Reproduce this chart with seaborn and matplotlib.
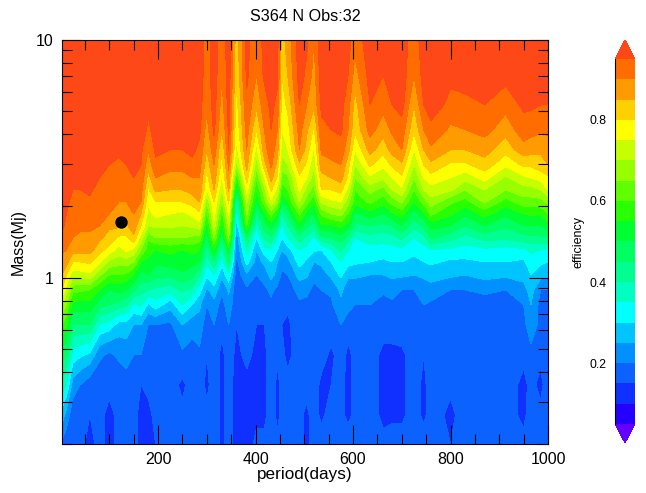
import matplotlib
matplotlib.use("Agg")
import matplotlib.pyplot as plt
from matplotlib.colors import ListedColormap
from matplotlib.ticker import FixedLocator, FixedFormatter, NullFormatter
import numpy as np
import seaborn as sns

title = "S364 N Obs:32"
levels = [0.05, 0.10, 0.15, 0.20, 0.25, 0.30, 0.35, 0.40, 0.45, 0.50,
          0.55, 0.60, 0.65, 0.70, 0.75, 0.80, 0.85, 0.90, 0.95]
band_colors = ["#2400ff", "#1030ff", "#0c62ff", "#0090ff", "#00c4ff", "#00ffff",
               "#00ffc0", "#00ff90", "#00ff60", "#00ff30", "#28ff00", "#60ff00",
               "#98ff00", "#c8ff00", "#ffff00", "#ffd000", "#ff9a00", "#ff6c00"]
under_color = "#6400ff"
over_color = "#ff4818"
cbar_ticks = [0.2, 0.4, 0.6, 0.8]

planet_period = [124]
planet_mass = [1.71]

mass = [0.2, 0.265, 0.354, 0.473, 0.633, 0.768, 0.888, 1.026, 1.164, 1.307, 1.468,
        1.649, 1.852, 2.08, 2.336, 2.624, 2.975, 3.44, 4.18, 5.32, 7.1, 10]

periods = [3, 12, 25, 40, 60, 80, 100, 120, 135, 150, 165, 180, 195, 225, 250, 270,
           285, 300, 315, 331, 345, 361, 382, 402, 418, 432, 445, 454, 466, 490, 505,
           520, 535, 555, 575, 590, 604, 635, 662, 680, 700, 725, 745, 760, 800, 830,
           870, 913, 950, 965, 985, 1000]

# efficiency in percent, one list per period, from low mass to high mass
eff_percent = [
    [19, 28, 38, 47, 60, 70, 80, 85, 88, 91, 94, 96, 97, 97, 98, 98, 98, 98, 98, 98, 98, 98],
    [17, 23, 35, 46, 56, 65, 73, 80, 87, 90, 92, 94, 95, 96, 96, 97, 97, 98, 98, 98, 98, 98],
    [16, 17, 23, 33, 45, 53, 62, 72, 80, 87, 90, 91, 92, 94, 95, 96, 96, 97, 97, 98, 98, 98],
    [16, 16, 20, 31, 45, 53, 61, 73, 80, 87, 89, 91, 93, 94, 95, 96, 97, 97, 98, 98, 98, 98],
    [14, 15, 17, 29, 45, 53, 60, 74, 81, 87, 89, 91, 93, 94, 96, 97, 97, 98, 98, 98, 98, 98],
    [16, 16, 17, 21, 35, 47, 55, 66, 76, 82, 86, 90, 91, 92, 93, 95, 96, 97, 98, 98, 98, 98],
    [14, 14, 16, 19, 33, 45, 50, 60, 69, 78, 83, 86, 90, 91, 92, 93, 95, 97, 98, 98, 98, 98],
    [16, 16, 17, 21, 28, 43, 52, 60, 67, 73, 79, 86, 88, 90, 91, 93, 94, 96, 97, 98, 98, 98],
    [16, 17, 18, 22, 28, 41, 50, 59, 68, 76, 79, 84, 88, 90, 92, 93, 95, 96, 98, 98, 98, 98],
    [16, 16, 16, 20, 25, 34, 46, 55, 65, 74, 84, 88, 90, 92, 94, 95, 96, 97, 98, 98, 98, 98],
    [14, 14, 15, 20, 25, 36, 42, 48, 55, 65, 73, 80, 85, 90, 92, 94, 95, 96, 98, 98, 98, 98],
    [13, 14, 16, 18, 20, 29, 40, 50, 54, 57, 61, 70, 73, 76, 79, 83, 87, 90, 94, 96, 97, 98],
    [15, 16, 17, 18, 20, 33, 39, 47, 51, 55, 65, 71, 77, 80, 86, 90, 94, 96, 97, 98, 98, 98],
    [18, 17, 17, 17, 19, 27, 37, 47, 52, 57, 65, 71, 75, 80, 85, 88, 92, 95, 97, 98, 98, 98],
    [17, 16, 14, 19, 25, 35, 41, 49, 53, 55, 65, 70, 74, 80, 85, 89, 91, 95, 97, 98, 98, 98],
    [17, 17, 17, 18, 22, 30, 39, 47, 52, 57, 64, 71, 76, 82, 87, 90, 94, 96, 97, 98, 98, 98],
    [17, 17, 17, 19, 23, 26, 32, 41, 50, 55, 63, 73, 79, 85, 89, 90, 92, 94, 96, 97, 98, 98],
    [17, 16, 14, 15, 17, 20, 24, 31, 36, 42, 47, 52, 59, 66, 75, 78, 82, 85, 88, 91, 92, 92],
    [18, 17, 17, 17, 20, 23, 28, 35, 45, 55, 65, 73, 77, 80, 85, 88, 90, 93, 96, 97, 98, 98],
    [14, 14, 14, 14, 16, 18, 21, 26, 32, 38, 46, 52, 58, 65, 70, 74, 78, 80, 85, 88, 90, 91],
    [17, 17, 17, 17, 20, 23, 26, 34, 46, 53, 66, 71, 76, 81, 86, 89, 91, 95, 96, 97, 98, 98],
    [13, 13, 13, 14, 15, 16, 16, 17, 18, 19, 21, 26, 32, 37, 48, 57, 68, 73, 76, 78, 81, 82],
    [13, 13, 14, 16, 17, 18, 19, 24, 32, 38, 46, 60, 66, 71, 77, 83, 87, 90, 92, 94, 96, 97],
    [16, 14, 13, 14, 15, 16, 17, 20, 23, 25, 30, 36, 43, 51, 55, 61, 67, 73, 80, 86, 90, 91],
    [16, 14, 14, 14, 15, 17, 19, 22, 26, 33, 41, 48, 54, 63, 68, 75, 83, 88, 90, 93, 96, 97],
    [17, 17, 17, 17, 18, 19, 21, 27, 30, 35, 44, 52, 62, 74, 81, 87, 91, 93, 95, 96, 97, 98],
    [16, 14, 14, 16, 16, 17, 19, 23, 25, 30, 34, 45, 54, 66, 73, 79, 83, 87, 90, 94, 96, 97],
    [16, 16, 16, 16, 15, 16, 17, 19, 22, 25, 30, 34, 40, 50, 57, 63, 67, 72, 75, 78, 80, 83],
    [17, 16, 16, 14, 14, 16, 17, 20, 23, 28, 35, 40, 47, 55, 60, 64, 70, 75, 78, 81, 85, 87],
    [17, 16, 15, 17, 18, 19, 22, 27, 32, 35, 43, 53, 61, 70, 76, 79, 84, 90, 92, 95, 97, 98],
    [14, 14, 17, 18, 18, 19, 21, 26, 29, 33, 39, 46, 53, 62, 68, 75, 79, 83, 86, 90, 94, 96],
    [17, 17, 17, 17, 17, 18, 19, 21, 25, 31, 34, 43, 50, 56, 63, 67, 71, 74, 79, 86, 88, 90],
    [17, 14, 14, 17, 17, 18, 20, 23, 26, 30, 44, 54, 61, 71, 80, 83, 88, 91, 94, 96, 98, 98],
    [17, 17, 15, 14, 18, 19, 21, 26, 30, 35, 45, 54, 65, 74, 80, 85, 89, 92, 95, 97, 98, 98],
    [17, 16, 16, 17, 20, 24, 26, 31, 35, 41, 48, 56, 67, 75, 82, 87, 90, 93, 96, 97, 98, 98],
    [17, 14, 14, 14, 17, 22, 22, 26, 32, 35, 43, 53, 60, 67, 73, 79, 82, 87, 90, 92, 95, 97],
    [15, 16, 16, 16, 17, 20, 22, 26, 31, 33, 35, 44, 49, 57, 60, 65, 70, 75, 81, 83, 88, 92],
    [17, 17, 17, 17, 18, 20, 22, 25, 30, 33, 38, 45, 53, 61, 67, 74, 81, 87, 92, 95, 97, 98],
    [16, 14, 14, 14, 17, 18, 21, 25, 29, 33, 37, 44, 50, 57, 63, 71, 76, 82, 87, 92, 95, 97],
    [17, 14, 13, 14, 17, 19, 22, 26, 30, 33, 38, 45, 54, 62, 70, 75, 81, 87, 91, 95, 97, 98],
    [17, 14, 14, 14, 18, 19, 20, 26, 30, 34, 41, 50, 57, 66, 74, 79, 84, 90, 93, 97, 98, 98],
    [17, 17, 17, 17, 18, 19, 20, 25, 28, 32, 35, 42, 48, 55, 60, 65, 70, 75, 81, 85, 90, 92],
    [17, 14, 14, 15, 18, 20, 22, 26, 30, 33, 38, 46, 54, 62, 70, 75, 80, 85, 90, 95, 97, 98],
    [17, 17, 17, 17, 18, 19, 23, 27, 31, 35, 46, 52, 61, 68, 73, 78, 84, 89, 94, 97, 98, 98],
    [15, 14, 16, 17, 17, 18, 20, 26, 29, 34, 42, 50, 56, 61, 71, 75, 79, 85, 89, 94, 96, 98],
    [16, 17, 17, 17, 17, 18, 20, 25, 29, 33, 38, 45, 51, 58, 65, 72, 79, 85, 90, 94, 97, 98],
    [16, 16, 17, 17, 18, 18, 21, 27, 30, 34, 42, 50, 57, 66, 70, 77, 83, 87, 92, 95, 97, 98],
    [17, 17, 17, 17, 17, 18, 20, 26, 30, 33, 41, 46, 51, 58, 65, 69, 76, 82, 87, 92, 97, 98],
    [16, 14, 14, 16, 18, 20, 23, 27, 29, 34, 43, 50, 55, 63, 68, 74, 81, 88, 93, 96, 98, 98],
    [17, 17, 16, 18, 24, 25, 27, 30, 33, 36, 44, 50, 56, 63, 68, 75, 81, 87, 92, 96, 98, 98],
    [17, 16, 14, 16, 18, 18, 20, 27, 31, 35, 44, 50, 56, 63, 70, 77, 83, 86, 91, 95, 97, 98],
    [17, 17, 17, 17, 17, 18, 20, 26, 30, 35, 45, 52, 60, 66, 75, 79, 85, 88, 91, 95, 97, 98],
]

sns.set_theme(style="ticks")
plt.rcParams["font.family"] = ["Liberation Sans", "DejaVu Sans"]
plt.rcParams["text.color"] = "black"
plt.rcParams["axes.labelcolor"] = "black"
plt.rcParams["xtick.color"] = "black"
plt.rcParams["ytick.color"] = "black"

efficiency = np.array(eff_percent).T / 100

w, h = 646, 493
fig = plt.figure(figsize=(w / 100, h / 100), dpi=100)
ax = fig.add_axes([62 / w, 1 - 444 / h, 486 / w, 404.5 / h])

cmap = ListedColormap(sns.color_palette(band_colors))
cmap.set_under(under_color)
cmap.set_over(over_color)

ax.set_yscale("log")
cf = ax.contourf(periods, mass, efficiency, levels=levels, cmap=cmap, extend="both")

sns.scatterplot(x=planet_period, y=planet_mass, color="black", s=80, linewidth=0, ax=ax, zorder=5)

ax.set_axisbelow(False)
ax.set_xlim(3, 1000)
ax.set_ylim(0.2, 10)
ax.xaxis.set_major_locator(FixedLocator([200, 400, 600, 800, 1000]))
ax.xaxis.set_minor_locator(FixedLocator(list(range(50, 1000, 50))))
ax.yaxis.set_major_locator(FixedLocator([1, 10]))
ax.yaxis.set_major_formatter(FixedFormatter(["1", "10"]))
ax.yaxis.set_minor_locator(FixedLocator([0.2, 0.3, 0.4, 0.5, 0.6, 0.7, 0.8, 0.9,
                                         2, 3, 4, 5, 6, 7, 8, 9]))
ax.yaxis.set_minor_formatter(NullFormatter())
ax.tick_params(which="major", direction="in", length=14, width=0.8, top=True, right=True,
               labelsize=11.5, pad=6)
ax.tick_params(which="minor", direction="in", length=7, width=0.8, top=True, right=True)
for spine in ax.spines.values():
    spine.set_linewidth(0.8)
    spine.set_color("black")

ax.set_xlabel("period(days)", fontsize=12.3, labelpad=0)
ax.set_ylabel("Mass(Mj)", fontsize=11.5, labelpad=7)
ax.set_title(title, fontsize=11.6, pad=13)

cax = fig.add_axes([615 / w, 1 - 443 / h, 20 / w, 403 / h])
cb = fig.colorbar(cf, cax=cax, extend="both", extendfrac=0.052, ticks=cbar_ticks, spacing="proportional")
cb.outline.set_visible(False)
cb.set_ticklabels(["0.2", "0.4", "0.6", "0.8"])
cax.minorticks_off()
cax.yaxis.set_ticks_position("left")
cax.yaxis.set_label_position("left")
cax.tick_params(length=0, labelsize=8.8, pad=6)
cax.spines["left"].set_visible(True)
cax.spines["left"].set_linewidth(0.8)
cax.spines["left"].set_color("black")
cb.set_label("efficiency", fontsize=9, labelpad=4)

fig.savefig("out.png", dpi=100)
